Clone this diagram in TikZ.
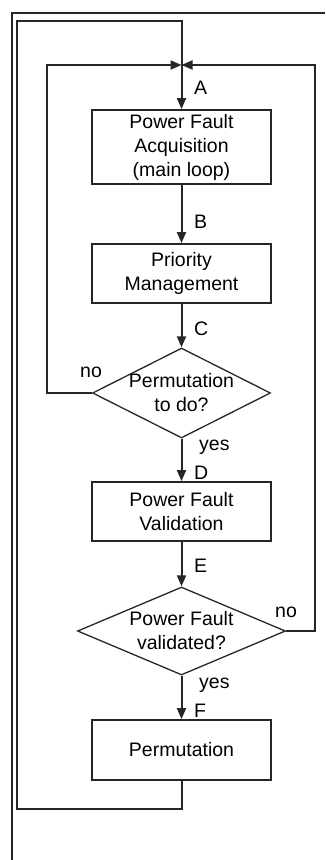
\documentclass[tikz,border=0pt]{standalone}
\usepackage{fontspec}
\setmainfont{Liberation Sans}
\usetikzlibrary{shapes.geometric,arrows.meta}
\begin{document}
\begin{tikzpicture}[x=1pt,y=-1pt,
  font=\fontsize{19.5}{24}\selectfont,
  ln/.style={draw=black!85, line width=2pt},
  arr/.style={ln, -{Triangle[length=11pt,width=9pt]}},
  procbox/.style={draw=black!85, line width=1.8pt, rectangle, minimum width=179pt, inner sep=0pt, align=center},
  decis/.style={draw=black!85, line width=1.3pt, diamond, inner sep=0pt},
  lbl/.style={anchor=base west, inner sep=0pt}]
\useasboundingbox (0,0) rectangle (325,860);
% outer frame
\draw[line width=2pt, draw=black!85] (325,13) -- (12,13) -- (12,861);
% nodes
\node[procbox, minimum height=74pt] (b1) at (181.5,147) {Power Fault\\Acquisition\\(main loop)};
\node[procbox, minimum height=59pt] (b2) at (181.5,273.5) {Priority\\Management};
\node[decis, minimum width=178pt, minimum height=90pt] (d1) at (181.5,393) {};
\node[align=center] (d1t) at (181.5,393) {Permutation\\to do?};
\node[procbox, minimum height=59pt] (b3) at (181.5,511.5) {Power Fault\\Validation};
\node[decis, minimum width=208pt, minimum height=88pt] (d2) at (181.5,631) {};
\node[align=center] (d2t) at (181.5,631) {Power Fault\\validated?};
\node[procbox, minimum height=60pt] (b4) at (181.5,750) {Permutation};
% coordinates
\coordinate (J) at (181.5,65);
\coordinate (jt) at (181.5,21);
\coordinate (lt) at (17,21);
\coordinate (lb) at (17,809);
\coordinate (ljt) at (47,65);
\coordinate (rjt) at (315,65);
% connectors
\draw[ln] (b4.south) |- (lb) -- (lt) -- (jt) -- (J);
\draw[arr] (J) -- (b1.north);
\draw[arr] (d1.west) -| (ljt) -- (J);
\draw[arr] (d2.east) -| (rjt) -- (J);
\draw[arr] (b1.south) -- (b2.north);
\draw[arr] (b2.south) -- (d1.north);
\draw[arr] (d1.south) -- (b3.north);
\draw[arr] (b3.south) -- (d2.north);
\draw[arr] (d2.south) -- (b4.north);
% labels
\node[lbl] (lA) at (194,94) {A};
\node[lbl] (lB) at (194,228) {B};
\node[lbl] (lC) at (194,335) {C};
\node[lbl] (lD) at (194,479) {D};
\node[lbl] (lE) at (194,572) {E};
\node[lbl] (lF) at (194,717) {F};
\node[lbl] (y1) at (199,450) {yes};
\node[lbl] (y2) at (199,688) {yes};
\node[lbl] (n1) at (80,377) {no};
\node[lbl] (n2) at (275,617) {no};
\end{tikzpicture}
\end{document}
